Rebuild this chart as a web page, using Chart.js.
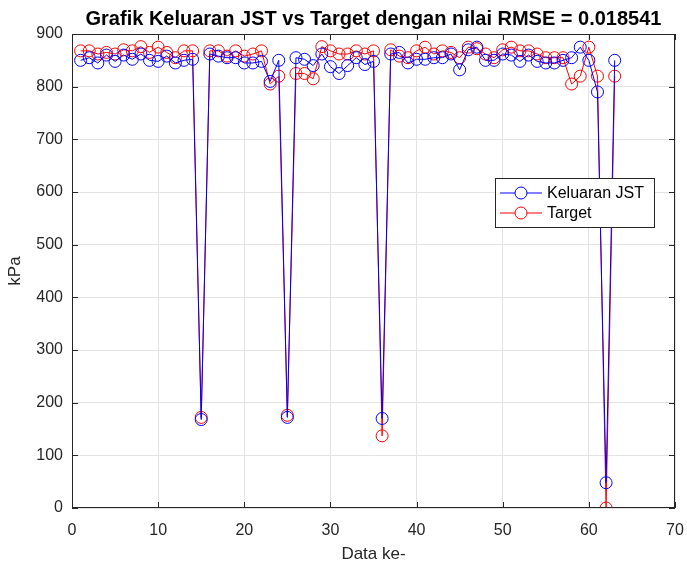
<!DOCTYPE html>
<html lang="id">
<head>
<meta charset="UTF-8">
<title>Grafik Keluaran JST vs Target</title>
<script src="https://cdn.jsdelivr.net/npm/chart.js@4.4.4/dist/chart.umd.min.js"></script>
</head>
<body style="margin:0; background:#fff;">
<div style="width:687px; height:565px;">
    <canvas id="grafik"></canvas>
</div>
<script>
// Data ke- 1..63
const dataKe = [];
for (let i = 1; i <= 63; i++) dataKe.push(i);

const keluaranJST = [850, 855, 845, 860, 848, 860, 852, 862, 850, 848,
    858, 845, 850, 852, 168, 862, 858, 855, 855, 845,
    845, 848, 810, 850, 172, 855, 852, 840, 862, 838,
    825, 840, 855, 842, 848, 170, 862, 865, 845, 852,
    852, 855, 855, 862, 832, 870, 875, 850, 850, 862,
    860, 848, 860, 848, 845, 845, 850, 855, 875, 850,
    790, 48, 850];

const target = [868, 868, 862, 865, 862, 870, 868, 876, 865, 875,
    865, 855, 868, 868, 172, 868, 868, 858, 868, 858,
    862, 868, 805, 820, 176, 825, 825, 815, 876, 868,
    862, 862, 868, 862, 868, 137, 870, 858, 855, 868,
    875, 862, 868, 865, 855, 875, 872, 862, 855, 870,
    875, 868, 868, 862, 855, 855, 855, 805, 820, 875,
    820, 0, 820];

const judul = 'Grafik Keluaran JST vs Target dengan nilai RMSE = 0.018541';
const FONT = '"Liberation Sans", Arial, sans-serif';
const TEKS = '#262626';

// judul, kotak, tanda tick dan legenda ala MATLAB
const hiasan = {
    id: 'hiasan',
    afterDraw(c) {
        const ctx = c.ctx, a = c.chartArea;
        ctx.save();
        ctx.fillStyle = '#000';
        ctx.font = 'bold 20px ' + FONT;
        ctx.textAlign = 'center';
        ctx.textBaseline = 'middle';
        ctx.fillText(judul, (a.left + a.right) / 2, 19);

        ctx.strokeStyle = TEKS;
        ctx.lineWidth = 1;
        ctx.strokeRect(a.left + 0.5, a.top + 0.5, a.right - a.left - 1, a.bottom - a.top - 1);
        ctx.beginPath();
        c.scales.x.ticks.forEach(t => {
            const px = Math.round(c.scales.x.getPixelForValue(t.value)) + 0.5;
            ctx.moveTo(px, a.bottom); ctx.lineTo(px, a.bottom - 6);
            ctx.moveTo(px, a.top); ctx.lineTo(px, a.top + 6);
        });
        c.scales.y.ticks.forEach(t => {
            const py = Math.round(c.scales.y.getPixelForValue(t.value)) + 0.5;
            ctx.moveTo(a.left, py); ctx.lineTo(a.left + 6, py);
            ctx.moveTo(a.right, py); ctx.lineTo(a.right - 6, py);
        });
        ctx.stroke();

        // legenda
        const lx = 495, ly = 178, lw = 159, lh = 49;
        ctx.fillStyle = '#fff';
        ctx.fillRect(lx, ly, lw, lh);
        ctx.strokeStyle = TEKS;
        ctx.strokeRect(lx + 0.5, ly + 0.5, lw, lh);
        ctx.font = '16px ' + FONT;
        ctx.textAlign = 'left';
        c.data.datasets.forEach((ds, i) => {
            const y = ly + 15 + i * 20;
            ctx.strokeStyle = ds.borderColor;
            ctx.beginPath();
            ctx.moveTo(lx + 5, y); ctx.lineTo(lx + 47, y);
            ctx.stroke();
            ctx.beginPath();
            ctx.arc(lx + 26, y, 6, 0, Math.PI * 2);
            ctx.fillStyle = '#fff';
            ctx.fill();
            ctx.stroke();
            ctx.fillStyle = '#000';
            ctx.fillText(ds.label, lx + 52, y + 1);
        });
        ctx.restore();
    }
};

new Chart(document.getElementById('grafik'), {
    type: 'line',
    data: {
        labels: dataKe,
        datasets: [
            {
                label: 'Keluaran JST',
                data: dataKe.map((x, i) => ({ x: x, y: keluaranJST[i] })),
                borderColor: '#0000ff',
                backgroundColor: 'rgba(0,0,0,0)',
                borderWidth: 1,
                pointRadius: 6,
                pointBorderWidth: 1,
                pointBackgroundColor: 'rgba(0,0,0,0)',
                tension: 0
            },
            {
                label: 'Target',
                data: dataKe.map((x, i) => ({ x: x, y: target[i] })),
                borderColor: '#ff0000',
                backgroundColor: 'rgba(0,0,0,0)',
                borderWidth: 1,
                pointRadius: 6,
                pointBorderWidth: 1,
                pointBackgroundColor: 'rgba(0,0,0,0)',
                tension: 0
            }
        ]
    },
    options: {
        responsive: true,
        maintainAspectRatio: false,
        animation: false,
        layout: { padding: { left: 0, right: 12, top: 34, bottom: 0 } },
        plugins: { legend: { display: false }, tooltip: { enabled: false } },
        scales: {
            x: {
                type: 'linear', min: 0, max: 70,
                ticks: { stepSize: 10, color: TEKS, font: { family: FONT, size: 16 }, padding: 13 },
                grid: { color: '#e3e3e3', drawTicks: false },
                border: { display: false },
                title: { display: true, text: 'Data ke-', color: TEKS, font: { family: FONT, size: 17 }, padding: { top: 4, bottom: 0 } },
                afterFit(s) { s.height = 57; s.paddingLeft = 0; s.paddingRight = 0; }
            },
            y: {
                min: 0, max: 900,
                ticks: { stepSize: 100, color: TEKS, font: { family: FONT, size: 16 }, padding: 9 },
                grid: { color: '#e3e3e3', drawTicks: false },
                border: { display: false },
                title: { display: true, text: 'kPa', color: TEKS, font: { family: FONT, size: 17 }, padding: { top: 5, bottom: 6 } },
                afterFit(s) { s.width = 72; s.paddingTop = 0; s.paddingBottom = 0; }
            }
        }
    },
    plugins: [hiasan]
});
</script>
</body>
</html>
